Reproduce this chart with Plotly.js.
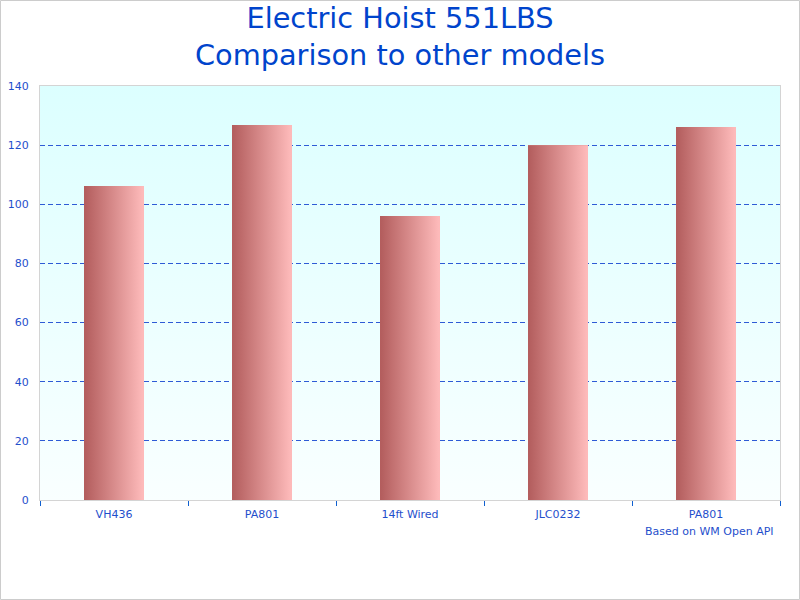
<!DOCTYPE html>
<html>
<head>
<meta charset="utf-8">
<script src="https://cdn.plot.ly/plotly-3.0.1.min.js"></script>
<style>
  html, body { margin: 0; padding: 0; background: #ffffff; }
  #chart { width: 800px; height: 600px; }
</style>
</head>
<body>
<div id="chart"></div>
<script>
// ---- data ----
const categories = ['VH436', 'PA801', '14ft Wired', 'JLC0232', 'PA801'];
const values = [106.2, 126.8, 96.0, 120.0, 126.1];
const yTickValues = [0, 20, 40, 60, 80, 100, 120, 140];
const chartTitle = 'Electric Hoist 551LBS<br>Comparison to other models';
const footnote = 'Based on WM Open API';

// ---- styling ----
const barWidth = 0.405;
const blue = '#1f4fcc';
const positions = categories.map((_, i) => i);
const boundaries = categories.map((_, i) => i - 0.5).concat([categories.length - 0.5]);

const traces = [];
traces.push({
  type: 'bar',
  x: positions,
  y: values,
  width: barWidth,
  marker: { color: '#d88e8e', line: { width: 0 } },
  hoverinfo: 'skip',
  showlegend: false
});
values.forEach((v, i) => {
  const x0 = positions[i] - barWidth / 2, x1 = positions[i] + barWidth / 2;
  traces.push({
    type: 'scatter',
    mode: 'none',
    x: [x0, x1, x1, x0, x0],
    y: [0, 0, v, v, 0],
    fill: 'toself',
    fillgradient: { type: 'horizontal', colorscale: [[0, '#b25c5c'], [1, '#ffbcbc']] },
    hoverinfo: 'skip',
    showlegend: false
  });
});

const bgSvg = "<svg xmlns='http://www.w3.org/2000/svg' width='100' height='100' preserveAspectRatio='none'>" +
  "<defs><linearGradient id='g' x1='0' y1='0' x2='0' y2='1'>" +
  "<stop offset='0' stop-color='#dcffff'/><stop offset='1' stop-color='#f9ffff'/></linearGradient></defs>" +
  "<rect width='100' height='100' fill='url(#g)'/></svg>";

const layout = {
  width: 800,
  height: 600,
  margin: { l: 40, r: 20, t: 86, b: 100 },
  paper_bgcolor: '#ffffff',
  plot_bgcolor: 'rgba(0,0,0,0)',
  font: { family: 'DejaVu Sans, sans-serif', size: 11, color: blue },
  title: {
    text: chartTitle,
    font: { family: 'DejaVu Sans, sans-serif', size: 28.8, color: '#0044cc' },
    x: 0.5, xanchor: 'center',
    y: 1 - 28 / 600, yref: 'container', yanchor: 'middle'
  },
  showlegend: false,
  bargap: 0,
  xaxis: {
    range: [-0.5, categories.length - 0.5],
    tickmode: 'array',
    tickvals: positions,
    ticktext: categories,
    ticks: '',
    ticklabelstandoff: 4,
    showgrid: false,
    zeroline: false,
    showline: true,
    mirror: true,
    linecolor: '#d4d4d4',
    linewidth: 1,
    tickfont: { size: 11, color: blue },
    minor: {
      tickmode: 'array',
      tickvals: boundaries,
      ticks: 'outside',
      ticklen: 5,
      tickcolor: '#1060d0',
      tickwidth: 1,
      showgrid: false
    },
    fixedrange: true
  },
  yaxis: {
    range: [0, 140],
    tickmode: 'array',
    tickvals: yTickValues,
    ticks: '',
    ticklabelstandoff: 8,
    showgrid: true,
    gridcolor: '#2e5bd6',
    griddash: '5px,3px',
    gridwidth: 1,
    zeroline: false,
    showline: true,
    mirror: true,
    linecolor: '#d4d4d4',
    linewidth: 1,
    tickfont: { size: 11, color: blue },
    fixedrange: true
  },
  images: [{
    source: 'data:image/svg+xml;charset=utf-8,' + encodeURIComponent(bgSvg),
    xref: 'paper', yref: 'paper',
    x: 0, y: 1, sizex: 1, sizey: 1,
    xanchor: 'left', yanchor: 'top',
    sizing: 'stretch',
    layer: 'below'
  }],
  annotations: [{
    text: footnote,
    xref: 'paper', yref: 'paper',
    x: (776 - 40) / 740, y: (500 - 531) / 414,
    xanchor: 'right', yanchor: 'middle',
    showarrow: false,
    font: { size: 11, color: blue }
  }],
  shapes: [{
    type: 'rect',
    xref: 'paper', yref: 'paper',
    x0: -39.5 / 740, x1: 759.5 / 740,
    y0: (500 - 599.5) / 414, y1: (500 - 0.5) / 414,
    line: { color: '#cccccc', width: 1 },
    fillcolor: 'rgba(0,0,0,0)',
    layer: 'above'
  }]
};

Plotly.newPlot('chart', traces, layout, { displayModeBar: false, staticPlot: true });
</script>
</body>
</html>
